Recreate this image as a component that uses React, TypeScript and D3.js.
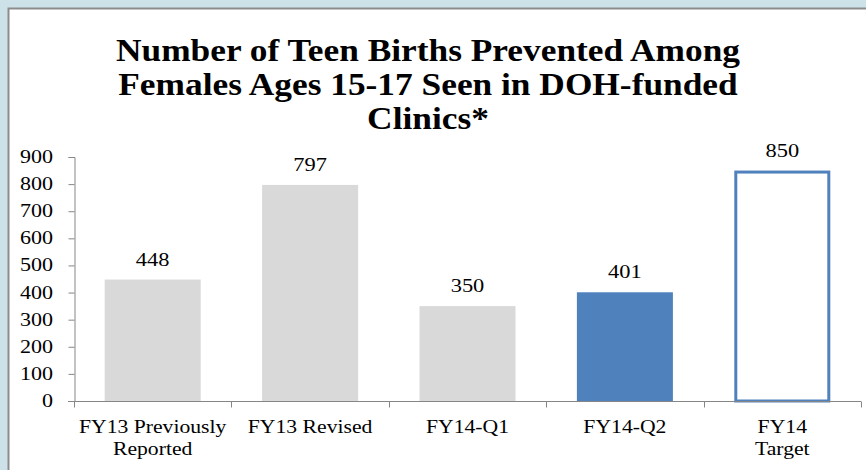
import React, { useRef, useEffect } from 'react'
import * as d3 from 'd3'

const categories = ['FY13 Previously Reported', 'FY13 Revised', 'FY14-Q1', 'FY14-Q2', 'FY14 Target']
const categoryLines = [['FY13 Previously', 'Reported'], ['FY13 Revised'], ['FY14-Q1'], ['FY14-Q2'], ['FY14', 'Target']]
const values = [448, 797, 350, 401, 850]
const barStyles = ['gray', 'gray', 'gray', 'blue', 'outline']
const yTicks = [0, 100, 200, 300, 400, 500, 600, 700, 800, 900]
const titleLines = [
    'Number of Teen Births Prevented Among',
    'Females Ages 15-17 Seen in DOH-funded',
    'Clinics*',
]

const W = 866
const H = 470
const SERIF = '"Liberation Serif", "Times New Roman", serif'

type TextSel = d3.Selection<SVGTextElement, unknown, null, undefined>

// 文字横向拉宽，贴合原图的字宽
function stretchText(t: TextSel, x: number, anchor: 'start' | 'middle' | 'end', factor: number) {
    t.attr('text-anchor', 'start').attr('x', x)
    const len = t.node()!.getComputedTextLength()
    const w = len * factor
    t.attr('textLength', w).attr('lengthAdjust', 'spacingAndGlyphs')
    if (anchor === 'middle') t.attr('x', x - w / 2)
    if (anchor === 'end') t.attr('x', x - w)
}

export default function App() {
    const svgRef = useRef<SVGSVGElement>(null)

    useEffect(() => {
        if (!svgRef.current) return
        const svg = d3.select(svgRef.current)
        svg.selectAll('*').remove()

        // 背景和面板
        svg.append('rect').attr('width', W).attr('height', H).attr('fill', '#cce2e8')
        svg.append('rect')
            .attr('x', 8.5)
            .attr('y', 8.5)
            .attr('width', W)
            .attr('height', H)
            .attr('fill', '#fff')
            .attr('stroke', '#8c8c8c')
            .attr('stroke-width', 2)

        const g = svg.append('g') as unknown as d3.Selection<SVGGElement, unknown, null, undefined>

        // 标题
        titleLines.forEach((line, i) => {
            const t = g.append('text')
                .attr('y', 61 + i * 34)
                .style('font-family', SERIF)
                .style('font-weight', 'bold')
                .style('font-size', '31px')
                .attr('fill', '#000')
                .text(line)
            stretchText(t, 428, 'middle', 1.14)
        })

        const x = d3.scaleBand<string>()
            .domain(categories)
            .range([74, 861])
            .paddingInner(0.39)
            .paddingOuter(0.195)

        const y = d3.scaleLinear().domain([0, 900]).range([401, 157])

        // Y轴
        const yAxis = g.append('g').attr('transform', 'translate(74.5,0)')
        yAxis.call(d3.axisLeft(y).tickValues(yTicks).tickSize(6).tickFormat(() => ''))
        yAxis.select('.domain').attr('stroke', '#868686')
        yAxis.selectAll('.tick line').attr('stroke', '#868686')
        yTicks.forEach((v) => {
            const t = g.append('text')
                .attr('y', y(v) + 6)
                .style('font-family', SERIF)
                .style('font-size', '19px')
                .attr('fill', '#000')
                .text(String(v))
            stretchText(t, 53, 'end', 1.16)
        })

        // 柱子
        categories.forEach((c, i) => {
            const st = barStyles[i]
            const bx = x(c)!
            const bw = x.bandwidth()
            if (st === 'outline') {
                g.append('rect')
                    .attr('x', bx + 1.5)
                    .attr('y', y(values[i]) + 1.5)
                    .attr('width', bw - 3)
                    .attr('height', y(0) - y(values[i]) - 1.5)
                    .attr('fill', '#fff')
                    .attr('stroke', '#4f81bd')
                    .attr('stroke-width', 3)
            } else {
                g.append('rect')
                    .attr('x', bx)
                    .attr('y', y(values[i]))
                    .attr('width', bw)
                    .attr('height', y(0) - y(values[i]))
                    .attr('fill', st === 'blue' ? '#4f81bd' : '#d9d9d9')
            }
            const t = g.append('text')
                .attr('y', y(values[i]) - 14)
                .style('font-family', SERIF)
                .style('font-size', '19.5px')
                .attr('fill', '#000')
                .text(String(values[i]))
            stretchText(t, bx + bw / 2, 'middle', 1.15)
        })

        // X轴
        const xAxis = g.append('g').attr('transform', 'translate(0,401.5)')
        xAxis.append('line').attr('x1', 68).attr('x2', 861).attr('stroke', '#868686')
        const edges = categories.map((c) => x(c)! - (x.step() - x.bandwidth()) / 2)
        edges.push(861)
        edges.forEach((e) => {
            xAxis.append('line')
                .attr('x1', Math.round(e) + 0.5)
                .attr('x2', Math.round(e) + 0.5)
                .attr('y1', 0)
                .attr('y2', 6)
                .attr('stroke', '#868686')
        })
        categories.forEach((c, i) => {
            categoryLines[i].forEach((ln, j) => {
                const t = g.append('text')
                    .attr('y', 433 + j * 22)
                    .style('font-family', SERIF)
                    .style('font-size', '19px')
                    .attr('fill', '#000')
                    .text(ln)
                stretchText(t, x(c)! + x.bandwidth() / 2, 'middle', 1.14)
            })
        })
    }, [])

    return (
        <div style={{ position: 'absolute', left: 0, top: 0 }}>
            <svg ref={svgRef} width={W} height={H} style={{ display: 'block' }} />
        </div>
    )
}
